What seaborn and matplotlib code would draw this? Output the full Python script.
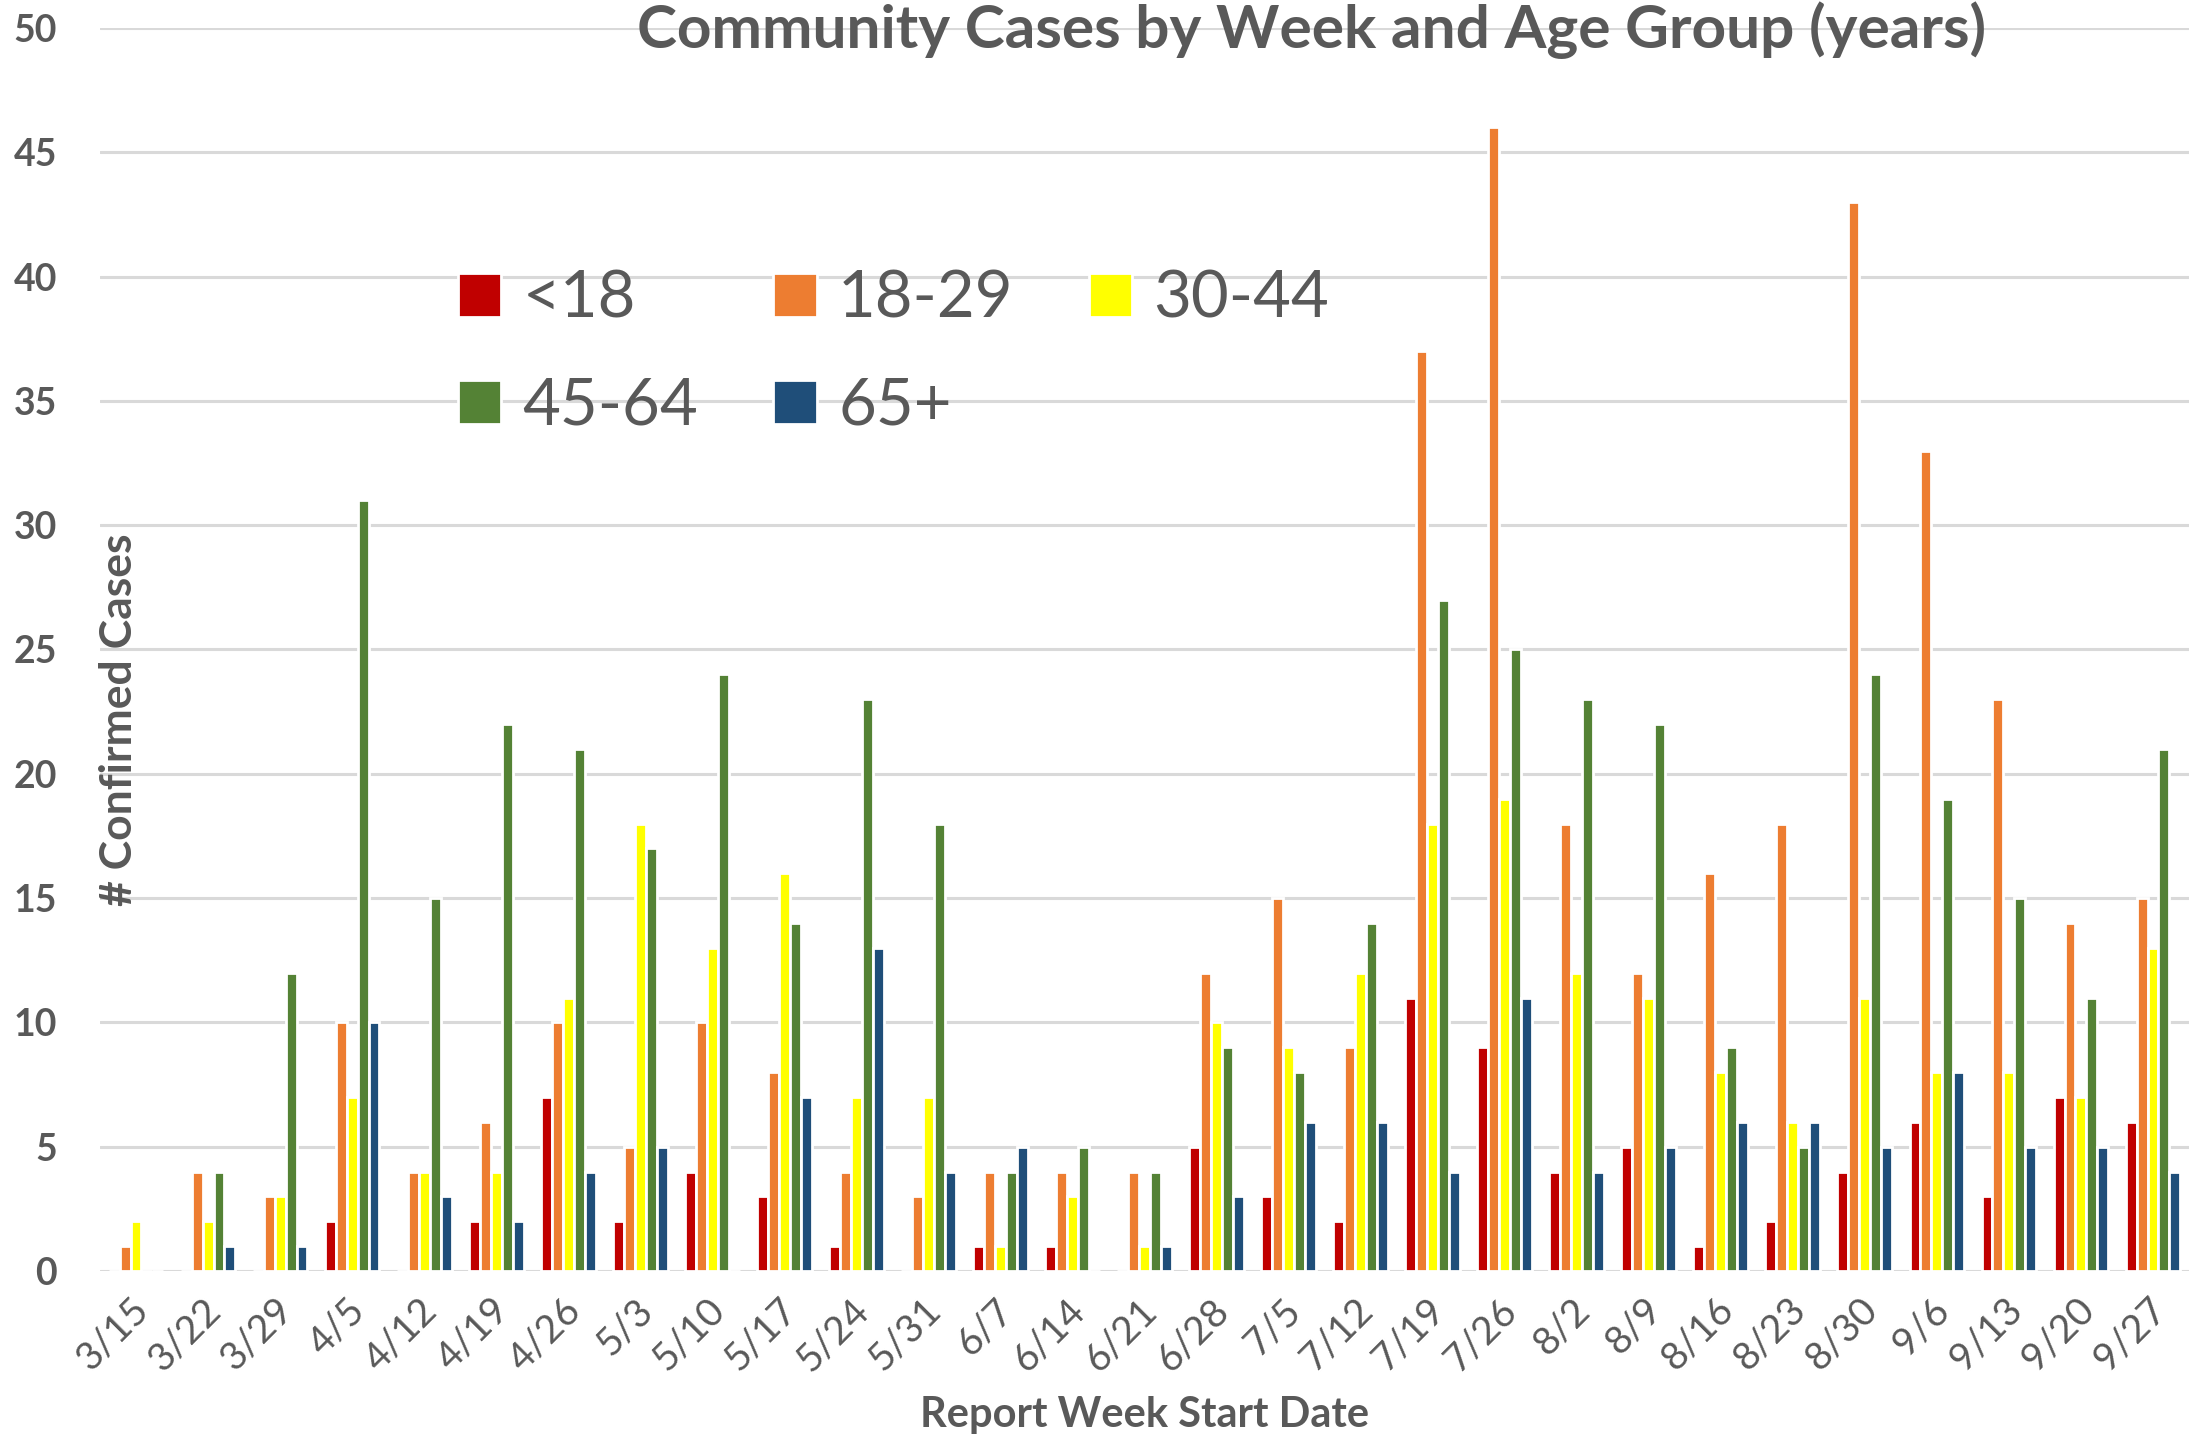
import pandas as pd
import matplotlib.pyplot as plt
import matplotlib.transforms as mtrans
import seaborn as sns

weeks = ["3/15", "3/22", "3/29", "4/5", "4/12", "4/19", "4/26", "5/3", "5/10", "5/17",
         "5/24", "5/31", "6/7", "6/14", "6/21", "6/28", "7/5", "7/12", "7/19", "7/26",
         "8/2", "8/9", "8/16", "8/23", "8/30", "9/6", "9/13", "9/20", "9/27"]
age_groups = ["<18", "18-29", "30-44", "45-64", "65+"]

under_18 = [0, 0, 0, 2, 0, 2, 7, 2, 4, 3, 1, 0, 1, 1, 0, 5, 3, 2, 11, 9, 4, 5, 1, 2, 4, 6, 3, 7, 6]
age_18_29 = [1, 4, 3, 10, 4, 6, 10, 5, 10, 8, 4, 3, 4, 4, 4, 12, 15, 9, 37, 46, 18, 12, 16, 18, 43, 33, 23, 14, 15]
age_30_44 = [2, 2, 3, 7, 4, 4, 11, 18, 13, 16, 7, 7, 1, 3, 1, 10, 9, 12, 18, 19, 12, 11, 8, 6, 11, 8, 8, 7, 13]
age_45_64 = [0, 4, 12, 31, 15, 22, 21, 17, 24, 14, 23, 18, 4, 5, 4, 9, 8, 14, 27, 25, 23, 22, 9, 5, 24, 19, 15, 11, 21]
age_65_plus = [0, 1, 1, 10, 3, 2, 4, 5, 0, 7, 13, 4, 5, 0, 1, 3, 6, 6, 4, 11, 4, 5, 6, 6, 5, 8, 5, 5, 4]

colors = ["#C00000", "#ED7D31", "#FFFF00", "#548235", "#1F4E79"]
text_color = "#595959"

# long format for seaborn
series = [under_18, age_18_29, age_30_44, age_45_64, age_65_plus]
rows = []
for grp, vals in zip(age_groups, series):
    for wk, v in zip(weeks, vals):
        rows.append({"week": wk, "group": grp, "cases": v})
df = pd.DataFrame(rows)

sns.set_theme(style="white")
plt.rcParams["font.family"] = ["Lato", "DejaVu Sans"]

W, H = 2197, 1437
fig = plt.figure(figsize=(W / 100, H / 100), dpi=100)
ax = fig.add_axes([100 / W, 1 - 1271 / H, (2189 - 100) / W, (1271 - 28) / H])

sns.barplot(data=df, x="week", y="cases", hue="group", order=weeks, hue_order=age_groups,
            palette=colors, width=0.76, edgecolor="white", linewidth=2, saturation=1,
            ax=ax)

ax.set_ylim(0, 50)
ax.set_xlim(-0.5, len(weeks) - 0.5)
ax.set_yticks(range(0, 51, 5))
ax.yaxis.grid(True, color="#D9D9D9", linewidth=2.2)
ax.set_axisbelow(True)
for s in ax.spines.values():
    s.set_visible(False)
ax.tick_params(axis="both", length=0)
ax.tick_params(axis="y", pad=31, labelsize=27, labelcolor=text_color)
ax.tick_params(axis="x", pad=24, labelsize=28, labelcolor=text_color)
for lab in ax.get_yticklabels():
    lab.set_fontweight("bold")
shift = mtrans.ScaledTranslation(7 / 100, 0, fig.dpi_scale_trans)
for lab in ax.get_xticklabels():
    lab.set_rotation(45)
    lab.set_ha("right")
    lab.set_va("center")
    lab.set_rotation_mode("anchor")
    lab.set_transform(lab.get_transform() + shift)
ax.set_xlabel("")
ax.set_ylabel("")

# legend fills row by row in the original: reorder for matplotlib's column-major layout
handles, labels = ax.get_legend_handles_labels()
idx = [0, 3, 1, 4, 2]
ax.legend([handles[i] for i in idx], [labels[i] for i in idx], ncol=3, frameon=False,
          fontsize=47, labelcolor=text_color,
          loc="upper left", bbox_to_anchor=(458 / W, 1 - 270 / H), bbox_transform=fig.transFigure,
          borderpad=0, borderaxespad=0, handlelength=0.66, handleheight=0.66,
          handletextpad=0.33, columnspacing=1.15, labelspacing=0.73)

fig.text(1312 / W, 1 - 30 / H, "Community Cases by Week and Age Group (years)",
         ha="center", va="center", fontsize=43.5, fontweight="bold", color=text_color)
fig.text(119 / W, 1 - 720 / H, "# Confirmed Cases", rotation=90, ha="center", va="center",
         fontsize=32, fontweight="bold", color=text_color)
fig.text(1145 / W, 1 - 1415 / H, "Report Week Start Date", ha="center", va="center",
         fontsize=30, fontweight="bold", color=text_color)

fig.savefig("out.png", dpi=100, facecolor="white")
